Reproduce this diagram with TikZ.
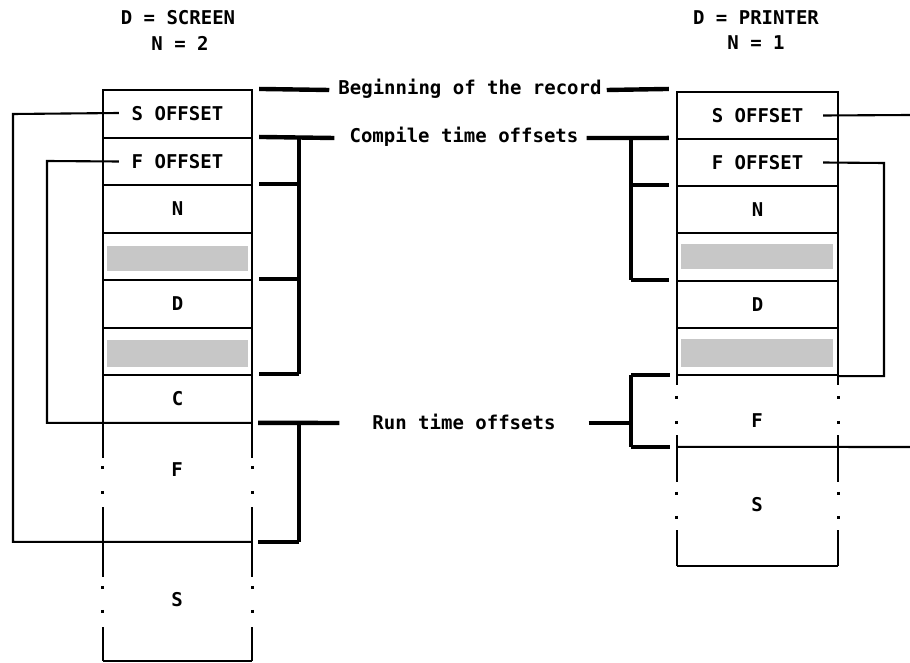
\documentclass[tikz,border=0pt]{standalone}
\usepackage{fontspec}
\newfontfamily\tw{DejaVu Sans Mono}
\usetikzlibrary{calc}
\begin{document}
\begin{tikzpicture}[x=1pt,y=-1pt,
  thn/.style={line width=2.1pt},
  thk/.style={line width=4.4pt},
  dotm/.style={line width=3pt},
  lbl/.style={font=\tw\bfseries\fontsize{19}{21}\selectfont, inner sep=0pt},
  lrow/.style={draw, thn, minimum width=149pt, inner sep=0pt, lbl},
  rrow/.style={draw, thn, minimum width=161pt, inner sep=0pt, lbl},
  lreg/.style={minimum width=149pt, inner sep=0pt},
  rreg/.style={minimum width=161pt, inner sep=0pt},
  shade/.style={fill=black!22}]
\useasboundingbox (0,0) rectangle (910,663);

% titles
\node[lbl] (t1) at (178,18) {D = SCREEN};
\node[lbl] (t2) at (180,43) {N = 2};
\node[lbl] (t3) at (756,18) {D = PRINTER};
\node[lbl] (t4) at (756,43) {N = 1};

% ---------------- left record ----------------
\node[lrow, minimum height=48pt] (lS)  at (177.5,114)   {S OFFSET};
\node[lrow, minimum height=47pt] (lF)  at (177.5,161.5) {F OFFSET};
\node[lrow, minimum height=48pt] (lN)  at (177.5,209)   {N};
\node[lrow, minimum height=47pt] (lG1) at (177.5,256.5) {};
\node[lrow, minimum height=48pt] (lD)  at (177.5,304)   {D};
\node[lrow, minimum height=47pt] (lG2) at (177.5,351.5) {};
\node[lrow, minimum height=48pt] (lC)  at (177.5,399)   {C};
\node[lreg, minimum height=119pt] (lFF) at (177.5,482.5) {};
\node[lreg, minimum height=119pt] (lSS) at (177.5,601.5) {};
\node[lbl] (lFl) at (177,470) {F};
\node[lbl] (lSl) at (177,600) {S};
\fill[shade] ($(lG1.north west)+(5,14)$) rectangle ($(lG1.south east)+(-5,-10)$);
\fill[shade] ($(lG2.north west)+(5,13)$) rectangle ($(lG2.south east)+(-5,-9)$);

% broken sides of F and S regions (left)
\foreach \X in {west,east}{
  \draw[thn] (lFF.north \X) -- +(0,35);
  \draw[thn] (lFF.south \X) -- +(0,-35);
  \draw[dotm] ($(lFF.north \X)+(0,43)$) -- +(0,3);
  \draw[dotm] ($(lFF.north \X)+(0,68)$) -- +(0,3);
  \draw[thn] (lSS.north \X) -- +(0,35);
  \draw[thn] (lSS.south \X) -- +(0,-34);
  \draw[dotm] ($(lSS.north \X)+(0,44)$) -- +(0,3);
  \draw[dotm] ($(lSS.north \X)+(0,68)$) -- +(0,3);
}
\draw[thn] (lSS.south west) -- (lSS.south east);

% left offset connectors
\coordinate (lSo) at ($(lS.west)+(17,-1)$);
\coordinate (lFo) at ($(lF.west)+(17,0)$);
\coordinate (lSrail) at (13,114);
\coordinate (lFrail) at (47,161);
\draw[thn] (lSo) -- (lSrail) |- (lSS.north east);
\draw[thn] (lFo) -- (lFrail) |- (lFF.north east);

% ---------------- right record ----------------
\node[rrow, minimum height=47pt] (rS)  at (757.5,115.5) {S OFFSET};
\node[rrow, minimum height=47pt] (rF)  at (757.5,162.5) {F OFFSET};
\node[rrow, minimum height=47pt] (rN)  at (757.5,209.5) {N};
\node[rrow, minimum height=48pt] (rG1) at (757.5,257)   {};
\node[rrow, minimum height=47pt] (rD)  at (757.5,304.5) {D};
\node[rrow, minimum height=47pt] (rG2) at (757.5,351.5) {};
\node[rreg, minimum height=72pt] (rFF) at (757.5,411)   {};
\node[rreg, minimum height=119pt] (rSS) at (757.5,506.5) {};
\node[lbl] (rFl) at (757,421) {F};
\node[lbl] (rSl) at (757,505) {S};
\fill[shade] ($(rG1.north west)+(5,12)$) rectangle ($(rG1.south east)+(-6,-13)$);
\fill[shade] ($(rG2.north west)+(5,12)$) rectangle ($(rG2.south east)+(-6,-9)$);

\foreach \X in {west,east}{
  \draw[thn] (rFF.north \X) -- +(0,10);
  \draw[thn] (rFF.south \X) -- +(0,-12);
  \draw[dotm] ($(rFF.north \X)+(0,21)$) -- +(0,3);
  \draw[dotm] ($(rFF.north \X)+(0,46)$) -- +(0,3);
  \draw[thn] (rSS.north \X) -- +(0,35);
  \draw[thn] (rSS.south \X) -- +(0,-36);
  \draw[dotm] ($(rSS.north \X)+(0,45)$) -- +(0,3);
  \draw[dotm] ($(rSS.north \X)+(0,69)$) -- +(0,3);
}
\draw[thn] (rSS.south west) -- (rSS.south east);

% right offset connectors
\coordinate (rSo) at ($(rS.east)+(-16,0)$);
\coordinate (rFo) at ($(rF.east)+(-16,0)$);
\coordinate (rSout) at (910,115);
\coordinate (rFrail) at (884,163);
\coordinate (rRout) at (910,447);
\draw[thn] (rSo) -- (rSout);
\draw[thn] (rFo) -- (rFrail) |- (rG2.south east);
\draw[thn] (rSS.north west) -- (rRout);

% ---------------- middle labels and brackets ----------------
\node[lbl] (beg) at (470,89) {Beginning of the record};
\node[lbl] (cto) at (464,137) {Compile time offsets};
\node[lbl] (rto) at (464,422) {Run time offsets};

% beginning of the record
\draw[thk] ($(lS.north east)+(6,0)$) -- ($(beg.west)+(-9,1)$);
\draw[thk] ($(beg.east)+(5,1)$) -- ($(rS.north west)+(-7,-2)$);

% compile time offsets
\coordinate (lCb) at (299,138);
\coordinate (rCb) at (631,138);
\draw[thk] ($(lF.north east)+(6,0)$) -- ($(cto.west)+(-15,1)$);
\draw[thk] ($(cto.east)+(8,1)$) -- ($(rF.north west)+(-7,0)$);
\draw[thk] (lCb) -- (lCb |- lC.north);
\draw[thk] ($(lN.north east)+(6,0)$) -- (lCb |- lN.north);
\draw[thk] ($(lD.north east)+(6,0)$) -- (lCb |- lD.north);
\draw[thk] ($(lC.north east)+(6,0)$) -- (lCb |- lC.north);
\draw[thk] (rCb) -- (rCb |- rD.north);
\draw[thk] ($(rN.north west)+(-7,0)$) -- (rCb |- rN.north);
\draw[thk] ($(rD.north west)+(-7,0)$) -- (rCb |- rD.north);

% run time offsets
\coordinate (lRb) at (299,423);
\coordinate (rRb) at (631,423);
\draw[thk] ($(lFF.north east)+(6,0)$) -- ($(rto.west)+(-33,1)$);
\draw[thk] (lRb) -- (lRb |- lSS.north);
\draw[thk] ($(lSS.north east)+(6,0)$) -- (lRb |- lSS.north);
\draw[thk] ($(rto.east)+(33,1)$) -- (rRb);
\draw[thk] (rRb |- rFF.north) -- (rRb |- rSS.north);
\draw[thk] ($(rFF.north west)+(-7,0)$) -- (rRb |- rFF.north);
\draw[thk] ($(rSS.north west)+(-7,0)$) -- (rRb |- rSS.north);
\end{tikzpicture}
\end{document}
